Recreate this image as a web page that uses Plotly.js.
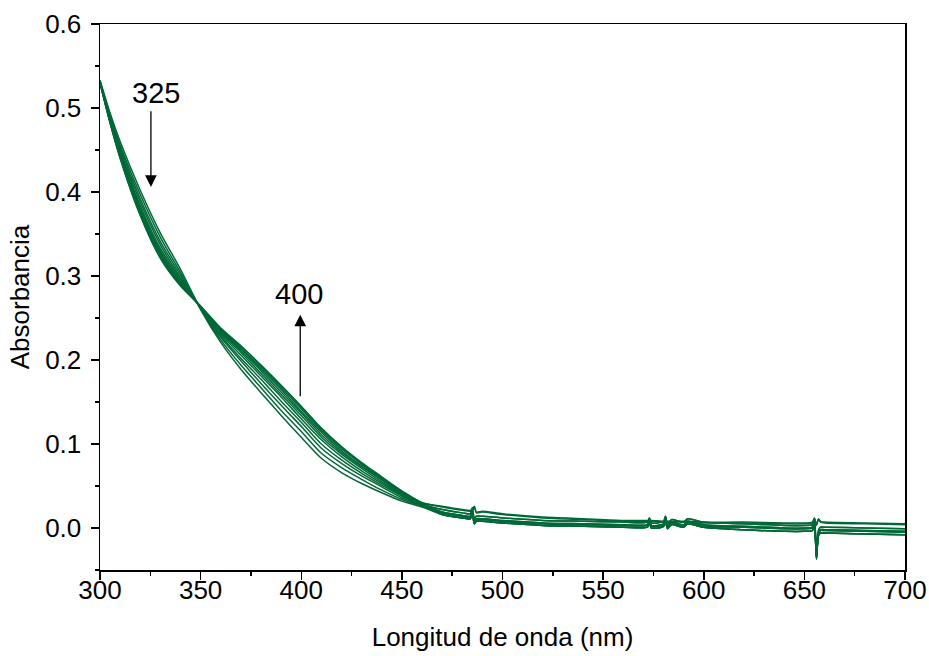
<!DOCTYPE html>
<html>
<head>
<meta charset="utf-8">
<script src="https://cdn.plot.ly/plotly-3.0.1.min.js"></script>
<style>html,body{margin:0;padding:0;background:#fff;}#chart{width:929px;height:656px;}</style>
</head>
<body>
<div id="chart"></div>
<script>
// Wavelengths (nm)
const headX = [300,305,310,320,330,340,350,360,370,380,390,400,410,420,430,440,450,460];
const tailX = [470,480,484,485,486,487,490,500,520,540,560,572,573,574,580,581,582,584,590,592,600,620,640,650,654,655,656,657,658,660,680,700];

// Absorbance, 300-460 nm, first (A) to last (B) spectrum
const headA  = [0.533,0.494,0.460,0.402,0.351,0.308,0.260,0.221,0.189,0.161,0.134,0.108,0.083,0.066,0.053,0.042,0.032,0.025];
const head1  = [0.532,0.492,0.456,0.397,0.346,0.304,0.261,0.224,0.194,0.167,0.140,0.115,0.089,0.072,0.058,0.045,0.034,0.026];
const head2  = [0.532,0.490,0.453,0.392,0.341,0.301,0.261,0.227,0.199,0.172,0.146,0.121,0.095,0.077,0.062,0.049,0.036,0.027];
const head3  = [0.532,0.488,0.450,0.388,0.337,0.298,0.262,0.229,0.202,0.177,0.151,0.126,0.100,0.081,0.065,0.051,0.038,0.027];
const head4  = [0.531,0.487,0.448,0.384,0.333,0.296,0.262,0.231,0.206,0.181,0.156,0.130,0.105,0.085,0.068,0.053,0.039,0.028];
const head5  = [0.531,0.486,0.446,0.381,0.330,0.294,0.263,0.233,0.209,0.184,0.159,0.134,0.108,0.088,0.071,0.055,0.040,0.029];
const head6  = [0.531,0.485,0.444,0.379,0.328,0.292,0.263,0.234,0.211,0.187,0.162,0.137,0.111,0.090,0.073,0.057,0.041,0.029];
const head7  = [0.530,0.484,0.443,0.377,0.326,0.291,0.263,0.235,0.213,0.189,0.165,0.139,0.114,0.092,0.074,0.058,0.042,0.029];
const head8  = [0.530,0.483,0.442,0.375,0.324,0.290,0.264,0.236,0.214,0.191,0.167,0.142,0.116,0.094,0.076,0.059,0.043,0.030];
const head9  = [0.530,0.483,0.441,0.373,0.322,0.289,0.264,0.237,0.216,0.193,0.169,0.144,0.118,0.096,0.077,0.060,0.044,0.030];
const headB  = [0.530,0.482,0.440,0.372,0.321,0.288,0.264,0.238,0.217,0.194,0.170,0.145,0.119,0.097,0.078,0.061,0.044,0.030];

// Absorbance, 470-700 nm tails (noisy and smooth groups)
const tailN1 = [0.022,0.018,0.017,0.024,0.011,0.014,0.014,0.012,0.009,0.008,0.007,0.007,0.012,0.006,0.008,0.014,0.005,0.010,0.007,0.011,0.007,0.005,0.003,0.003,0.004,0.011,-0.029,-0.003,0.001,0.001,0.000,-0.001];
const tailN2 = [0.019,0.015,0.014,0.020,0.008,0.011,0.011,0.009,0.006,0.005,0.004,0.004,0.009,0.003,0.005,0.011,0.002,0.007,0.004,0.008,0.004,0.002,0.000,0.000,0.001,0.008,-0.034,-0.006,-0.002,-0.002,-0.003,-0.004];
const tailN3 = [0.016,0.012,0.011,0.017,0.005,0.008,0.008,0.006,0.003,0.002,0.001,0.001,0.006,0.000,0.002,0.008,-0.001,0.004,0.001,0.005,0.001,-0.002,-0.004,-0.004,-0.003,0.004,-0.037,-0.009,-0.006,-0.006,-0.007,-0.008];
const tailN4 = [0.018,0.014,0.013,0.019,0.007,0.010,0.010,0.008,0.005,0.004,0.003,0.003,0.008,0.002,0.004,0.010,0.001,0.006,0.002,0.007,0.002,0.001,-0.001,-0.001,0.000,0.007,-0.035,-0.007,-0.003,-0.003,-0.004,-0.005];
const tailS1 = [0.026,0.022,0.021,0.022,0.026,0.019,0.020,0.017,0.013,0.011,0.009,0.009,0.009,0.009,0.008,0.008,0.008,0.008,0.008,0.008,0.007,0.007,0.006,0.006,0.007,0.012,0.004,0.011,0.008,0.007,0.006,0.005];
const tailS2 = [0.025,0.021,0.020,0.021,0.025,0.018,0.019,0.016,0.012,0.010,0.008,0.008,0.008,0.008,0.007,0.007,0.007,0.007,0.007,0.007,0.006,0.006,0.005,0.005,0.006,0.011,0.003,0.010,0.007,0.006,0.005,0.004];

const spectra = [
  [headA, tailN3], [head1, tailN4], [head2, tailN1], [head3, tailN2],
  [head4, tailN3], [head5, tailN4], [head6, tailN1], [head7, tailN2],
  [head8, tailN3], [head9, tailS2], [headB, tailS1]
];

const wavelengths = headX.concat(tailX);
const green = '#006837';
const traces = spectra.map(s => ({
  x: wavelengths,
  y: s[0].concat(s[1]),
  type: 'scatter',
  mode: 'lines',
  line: {color: green, width: 1.5, shape: 'spline', smoothing: 0.7},
  hoverinfo: 'skip',
  showlegend: false
}));

const F = 'Liberation Sans, Arial, Helvetica, sans-serif';
const layout = {
  width: 929, height: 656,
  margin: {l: 100, r: 24, t: 24, b: 86},
  paper_bgcolor: '#fff', plot_bgcolor: '#fff',
  font: {family: F, color: '#000', size: 26},
  xaxis: {
    range: [300, 700], tick0: 300, dtick: 50,
    ticks: 'outside', ticklen: 8, tickwidth: 1.5, tickcolor: '#000',
    ticklabelstandoff: -12,
    minor: {dtick: 25, ticks: 'outside', ticklen: 4, tickwidth: 1.5, tickcolor: '#000'},
    showline: true, linewidth: 1.5, linecolor: '#000', mirror: true,
    showgrid: false, zeroline: false, automargin: false,
    tickfont: {family: F, size: 26, color: '#000'},
    title: {text: 'Longitud de onda (nm)', font: {family: F, size: 26, color: '#000'}, standoff: 24}
  },
  yaxis: {
    range: [-0.05, 0.6], tick0: 0, dtick: 0.1, tickformat: '.1f',
    ticks: 'outside', ticklen: 8, tickwidth: 1.5, tickcolor: '#000',
    ticklabelstandoff: 4,
    minor: {dtick: 0.05, ticks: 'outside', ticklen: 4, tickwidth: 1.5, tickcolor: '#000'},
    showline: true, linewidth: 1.5, linecolor: '#000', mirror: true,
    showgrid: false, zeroline: false, automargin: false,
    tickfont: {family: F, size: 26, color: '#000'},
    title: {text: 'Absorbancia', font: {family: F, size: 26, color: '#000'}, standoff: 8}
  },
  annotations: [
    {x: 327.7, y: 0.518, xref: 'x', yref: 'y', text: '325', showarrow: false, font: {family: F, size: 29, color: '#000'}},
    {x: 325.3, y: 0.406, ax: 325.3, ay: 0.498, xref: 'x', yref: 'y', axref: 'x', ayref: 'y',
     text: '', showarrow: true, arrowhead: 2, arrowsize: 1.8, arrowwidth: 1.3, arrowcolor: '#000'},
    {x: 399.0, y: 0.279, xref: 'x', yref: 'y', text: '400', showarrow: false, font: {family: F, size: 29, color: '#000'}},
    {x: 399.5, y: 0.254, ax: 399.5, ay: 0.155, xref: 'x', yref: 'y', axref: 'x', ayref: 'y',
     text: '', showarrow: true, arrowhead: 2, arrowsize: 1.8, arrowwidth: 1.3, arrowcolor: '#000'}
  ]
};

Plotly.newPlot('chart', traces, layout, {displayModeBar: false, staticPlot: true});
</script>
</body>
</html>
